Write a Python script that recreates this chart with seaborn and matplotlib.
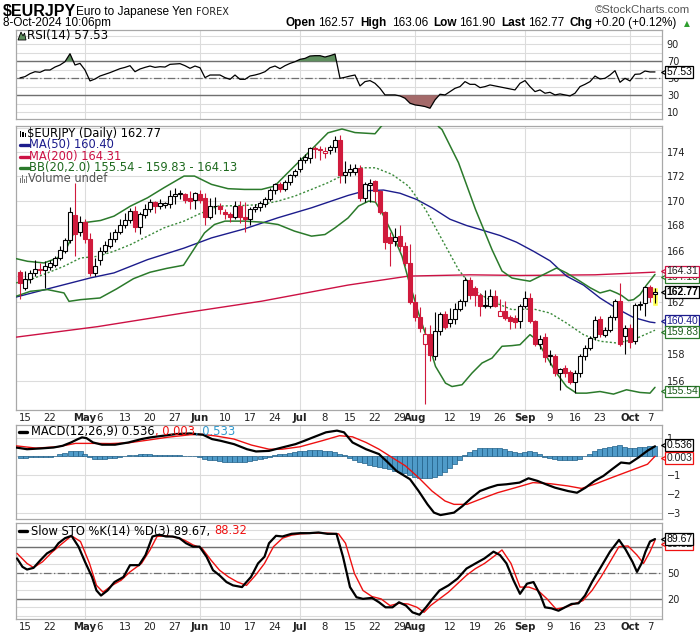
import numpy as np
import pandas as pd
import matplotlib
matplotlib.use("Agg")
import matplotlib.pyplot as plt
import matplotlib.transforms as mtrans
from matplotlib.ticker import NullLocator
from matplotlib.lines import Line2D
from matplotlib.patches import Polygon, Rectangle
import seaborn as sns

# ---------------- data ----------------
opens = [164.30,163.05,163.78,164.25,164.58,164.45,164.70,164.90,165.40,166.00,
         166.85,168.85,167.45,168.25,166.90,164.25,165.25,166.00,166.40,166.95,
         167.50,168.00,168.45,169.20,167.90,168.85,169.35,169.90,169.60,169.65,
         169.75,170.35,170.50,170.55,170.25,170.05,170.50,170.20,168.70,169.55,
         169.60,169.07,168.95,168.70,169.55,168.70,168.55,169.30,169.45,169.70,
         170.15,170.85,171.32,170.97,171.52,172.05,172.55,173.35,173.45,174.30,
         174.20,173.90,174.15,174.40,175.00,172.05,172.30,172.35,172.70,170.25,
         171.30,171.60,170.80,169.05,167.05,166.75,167.20,166.40,165.05,162.00,
         160.85,158.75,159.55,157.90,159.80,161.10,160.35,160.70,161.45,162.10,
         163.68,163.10,162.55,161.65,161.65,162.48,160.95,161.28,160.85,160.75,
         160.50,161.65,162.30,160.50,158.75,159.30,157.90,157.90,156.60,156.95,
         156.70,155.95,156.60,157.85,158.50,159.30,160.65,159.50,159.85,160.85,
         162.05,159.40,160.00,159.00,161.75,161.90,163.15,162.57]
highs = [164.50,164.38,164.50,165.30,165.00,165.15,165.30,165.60,166.40,167.00,
         169.50,171.40,168.80,168.50,167.40,165.40,166.30,166.80,167.50,167.70,
         168.50,169.00,169.40,169.60,169.10,169.70,170.10,170.00,170.10,169.90,
         170.90,171.00,170.90,170.60,170.75,170.70,170.90,170.60,170.20,170.30,
         169.80,169.30,169.10,170.00,170.00,169.90,169.50,169.70,170.00,170.30,
         171.00,171.45,171.50,171.70,172.20,172.60,173.55,173.80,174.40,174.50,
         174.45,174.40,174.60,175.30,175.40,173.20,173.00,173.00,172.90,171.50,
         171.75,171.70,170.90,169.20,167.50,167.80,168.00,166.70,166.50,162.60,
         161.60,160.10,160.20,161.20,161.20,161.30,161.50,161.90,162.20,163.95,
         163.90,163.20,162.70,162.90,163.00,162.90,162.20,162.10,161.00,161.00,
         161.80,162.85,162.70,160.60,159.50,159.60,158.30,158.00,157.00,157.20,
         156.80,156.80,158.00,158.70,159.40,160.90,160.90,160.10,161.00,162.20,
         163.45,160.20,160.30,161.90,162.10,163.20,163.30,163.06]
lows = [162.20,162.95,163.50,164.00,164.20,163.10,164.50,164.70,165.30,165.80,
        166.60,165.60,167.20,166.60,164.00,164.00,164.90,165.80,166.20,166.70,
        167.30,167.80,168.20,167.50,167.30,168.60,169.10,169.00,169.30,169.40,
        169.40,169.70,170.10,169.80,169.30,169.30,169.80,168.00,168.50,168.90,
        168.90,168.50,168.30,168.50,168.20,167.50,168.00,169.10,169.20,169.50,
        170.00,170.50,170.70,170.80,171.30,171.90,172.30,173.10,173.10,173.50,
        173.35,173.50,173.80,174.00,171.40,171.40,172.00,172.10,170.00,169.90,
        169.90,169.90,168.90,166.10,164.80,166.40,166.00,164.80,161.80,160.50,
        159.70,154.30,157.50,157.60,159.50,159.90,160.10,160.30,161.30,161.70,
        162.20,161.65,160.90,161.50,161.50,161.60,160.90,160.60,159.90,160.00,
        160.00,161.50,160.40,158.60,158.40,157.40,157.20,156.40,155.35,156.30,
        155.80,155.10,156.30,157.60,158.30,159.10,159.30,159.30,159.70,160.60,
        158.60,158.00,158.50,158.80,161.40,160.90,162.00,161.90]
closes = [163.47,163.78,164.25,164.56,164.45,164.80,165.00,165.40,166.05,166.85,
          169.10,167.30,168.25,166.90,164.25,164.82,166.00,166.48,166.96,167.50,
          168.05,168.45,169.20,167.90,168.90,169.35,169.90,169.60,169.80,169.80,
          170.35,170.50,170.65,170.05,170.00,170.63,170.05,168.70,169.55,169.60,
          169.35,168.90,168.70,169.55,168.65,168.55,169.30,169.45,169.80,170.15,
          170.85,171.32,170.97,171.52,172.05,172.40,173.35,173.58,174.30,174.20,
          174.15,174.10,174.40,175.00,172.05,172.30,172.60,172.70,170.25,171.35,
          171.45,170.80,169.05,166.70,166.60,167.10,166.40,165.00,162.00,160.85,
          160.00,159.55,157.98,159.80,161.10,160.10,160.68,161.45,162.10,163.68,
          162.55,162.50,161.65,161.78,162.48,161.65,161.28,160.75,160.50,160.45,
          161.65,162.30,160.50,158.75,159.15,157.80,157.95,156.60,156.90,156.60,
          155.95,156.60,157.85,158.50,159.25,160.60,159.55,159.85,160.85,162.05,
          158.75,160.00,158.90,161.75,161.85,163.15,162.40,162.77]

ma50_x = [-0.8,5.5,14.1,18.8,25.5,32.8,38.3,44.9,51.6,58.3,65.6,69,72.7,76,79.3,82.5,86,
          89.3,92.7,96,99.3,102.7,106,109.3,112.7,116,119.3,122.7,126,127]
ma50_y = [162.37,163.0,163.86,164.25,165.29,166.2,167.01,167.73,168.62,169.42,170.42,170.8,
          170.86,170.6,170.1,169.4,168.5,168.0,167.6,167.2,166.67,165.95,165.2,164.0,163.3,
          162.3,161.5,160.8,160.45,160.40]
ma200_x = [-0.8,15.5,32.8,48.3,65.6,77.7,90,100,115,127]
ma200_y = [159.3,160.1,161.15,162.05,163.3,164.0,164.1,164.05,164.1,164.31]
bbu_x = [-0.8,1.5,4.8,7.5,9.5,11.1,12.5,16.1,18.8,22.1,25.5,28.8,32.8,34.9,38.3,41.6,44.9,
         48.3,50.9,52.9,54.9,58.3,61.6,64.4,67,71,72.4,74,78,82,83.7,84.4,87.7,91.1,94.4,
         96.4,98.4,100,102,104.7,107.3,109.3,112,114,116,118,119.3,120.3,121.7,122.7,124,
         125.3,127]
bbu_y = [165.37,165.16,165.03,165.42,166.35,167.68,168.21,168.4,168.75,169.56,170.23,171.05,
         172.0,172.0,171.32,170.97,170.91,170.91,171.18,172.0,172.82,174.19,175.58,175.9,
         175.6,175.5,176.2,177.0,178.5,178.0,176.1,175.85,173.1,169.29,166.08,164.4,163.85,
         163.73,163.6,164.12,164.63,164.25,163.6,163.1,162.69,162.9,162.69,162.5,162.1,
         162.17,162.56,163.3,164.13]
bbm_x = [-0.8,2.1,5.5,8.8,12.1,15.5,18.8,22.1,25.5,28.8,32.8,35.6,39.6,44.9,48.3,51.6,54.9,
         58.3,61.6,65.6,68.4,71.1,74.4,77.7,81.1,84.4,87.7,91.1,94.4,98.4,102.7,106,109.3,
         112.7,116,119.3,122.7,127]
bbm_y = [163.47,163.73,164.25,164.77,165.42,165.55,165.95,166.48,167.15,167.81,168.35,168.88,
         169.56,169.61,169.69,169.96,170.36,170.91,171.46,172.27,172.68,172.68,172.14,171.18,
         169.29,166.88,164.51,162.82,162.04,161.4,161.45,161.14,160.37,159.49,158.99,158.86,
         159.11,159.83]
bbl_x = [-0.8,2.1,5.5,8.8,9.8,12.1,16,19.3,22.7,26,29.3,32.7,34.3,35.6,36.9,38.9,41,44.9,
         48.3,51.6,54.9,58.3,61,63,65.6,67.7,69.7,71.1,72.4,74.4,76.4,77.7,79.7,81.7,83.1,
         85.1,86.4,88.4,90.4,92.4,94.4,96.4,98.4,100,102,103.3,105.3,107.3,109.3,111.3,
         113.3,116,118.7,121.3,124,126,127]
bbl_y = [162.43,162.82,162.95,162.69,162.04,162.17,162.3,163.0,163.8,164.3,164.6,164.85,
         165.82,166.61,167.41,168.08,168.35,168.35,168.27,168.08,167.55,167.15,167.28,167.81,
         168.6,169.56,169.96,169.88,169.02,167.41,165.56,163.73,161.14,158.86,157.1,155.85,
         155.6,155.73,156.6,157.35,157.72,158.61,158.66,158.73,159.49,159.11,157.85,156.6,
         155.6,155.11,155.11,155.23,155.04,155.36,155.16,155.11,155.54]

rsi = [50.5,52.0,55.5,57.8,57.1,59.8,59.8,63.3,65.7,69.6,
       79.0,65.7,67.6,59.8,46.9,49.2,52.7,54.7,56.7,59.0,
       61.4,62.9,64.9,57.8,61.0,62.9,64.5,62.9,63.7,63.3,
       66.5,66.9,67.3,64.9,61.8,64.5,62.5,50.8,53.9,53.9,
       53.9,50.8,48.8,53.9,48.8,48.8,52.7,53.9,55.5,57.8,
       62.5,64.5,61.4,64.9,67.6,69.6,72.4,73.5,76.3,76.7,
       76.7,75.1,76.7,78.6,50.0,51.2,52.7,53.9,41.0,46.1,
       47.3,44.1,38.2,30.4,30.4,30.4,29.2,26.5,20.6,18.6,
       17.8,16.7,14.7,24.5,31.2,30.4,34.3,38.2,40.2,46.1,
       42.9,42.9,39.0,40.2,42.2,41.0,39.8,38.6,37.5,36.3,
       44.1,47.3,40.2,34.3,36.3,32.4,33.5,30.4,31.6,30.4,
       29.2,32.4,40.2,42.9,46.1,52.7,49.2,50.0,53.9,59.0,
       45.3,50.0,46.9,54.7,55.1,58.6,57.5,57.53]

macd_x = [-0.8,1.4,4.1,6.7,8.5,10.2,11.6,12.4,13.3,14.6,16.4,19.0,21.7,24.3,26.1,28.7,31.3,
          34.0,36.6,38.4,40.1,42.8,45.4,47.2,49.8,52.4,55.1,56.9,58.6,61.2,63.4,64.8,66.5,
          69.2,71.8,73.6,75.3,78.0,79.7,81.5,82.8,84.1,86.8,88.5,90.3,92.0,93.8,95.5,97.3,
          99.9,101.7,103.5,105.2,107.0,109.6,111.4,113.1,114.9,116.7,118.4,120.2,121.9,
          123.7,125.5,127.0]
macd_y = [0.47,0.38,0.42,0.47,0.56,0.74,0.92,1.01,0.97,0.74,0.62,0.62,0.74,0.92,1.01,1.10,
          1.19,1.22,1.15,0.92,0.83,0.65,0.38,0.26,0.29,0.47,0.65,0.83,1.01,1.28,1.37,1.28,
          0.74,0.38,0.12,-0.33,-0.78,-1.22,-1.84,-2.56,-3.00,-3.13,-3.00,-2.65,-2.21,-1.85,
          -1.67,-1.53,-1.49,-1.40,-1.17,-1.31,-1.49,-1.67,-1.85,-1.94,-1.67,-1.31,-1.04,
          -0.69,-0.33,-0.38,-0.06,0.30,0.536]
sig_x = [-0.8,3.2,7.6,11.1,14.6,18.1,21.7,25.2,29.6,34.0,36.6,39.3,42.8,46.3,49.8,52.4,56.0,
         60.4,63.9,66.5,69.2,71.8,74.4,77.1,79.7,82.4,85.0,86.8,89.4,92.0,95.5,99.1,102.6,
         106.1,109.6,112.3,114.9,118.4,121.9,125.5,127.0]
sig_y = [0.56,0.44,0.51,0.69,0.69,0.68,0.72,0.85,1.02,1.15,1.17,1.08,0.92,0.60,0.38,0.38,
         0.51,0.83,1.10,1.04,0.74,0.38,-0.06,-0.51,-1.13,-1.85,-2.38,-2.56,-2.56,-2.29,-1.94,
         -1.67,-1.40,-1.46,-1.58,-1.71,-1.49,-1.13,-0.78,-0.42,0.003]
hist = [-0.07,-0.07,-0.06,-0.05,-0.04,-0.03,-0.01,0.03,0.10,0.18,
        0.26,0.30,0.30,0.12,-0.05,-0.15,-0.15,-0.12,-0.10,-0.08,
        -0.03,0.02,0.05,0.08,0.10,0.10,0.10,0.08,0.08,0.08,
        0.07,0.06,0.05,0.04,0.03,0.0,-0.05,-0.12,-0.17,-0.22,
        -0.26,-0.30,-0.30,-0.30,-0.30,-0.28,-0.25,-0.20,-0.15,-0.08,
        -0.02,0.05,0.10,0.13,0.17,0.22,0.26,0.30,0.32,0.32,
        0.32,0.30,0.28,0.25,0.15,0.05,-0.10,-0.20,-0.30,-0.35,
        -0.45,-0.50,-0.55,-0.60,-0.70,-0.80,-0.85,-0.90,-1.00,-1.10,
        -1.15,-1.15,-1.15,-1.10,-1.00,-0.85,-0.60,-0.40,-0.20,0.05,
        0.25,0.35,0.42,0.45,0.45,0.45,0.42,0.38,0.30,0.25,
        0.20,0.25,0.30,0.25,0.10,-0.05,-0.10,-0.15,-0.18,-0.20,
        -0.22,-0.20,-0.12,0.0,0.10,0.30,0.38,0.45,0.50,0.55,
        0.60,0.50,0.45,0.42,0.48,0.50,0.53,0.533]

stok_x = [-0.6,0.5,1.4,2.7,4.1,5.4,6.8,7.7,9.0,10.3,11.7,13.0,14.4,15.3,16.2,17.5,18.9,20.7,
          22.0,23.8,25.1,26.5,27.8,29.2,30.5,31.9,33.2,34.6,35.9,37.3,38.6,39.9,41.3,42.6,
          44.4,46.2,47.6,48.9,49.8,51.2,52.5,54.3,56.1,57.9,59.7,61.5,63.3,64.6,66.0,67.3,
          68.6,70.4,71.8,73.1,74.5,75.8,77.2,78.5,79.9,81.2,82.5,83.9,85.7,87.5,89.3,91.1,
          92.9,94.7,96.0,97.3,98.7,100.0,101.4,102.7,104.1,105.0,106.3,107.7,109.0,110.3,
          111.7,113.0,114.4,116.2,118.0,119.8,121.1,122.5,123.4,124.3,125.1,126.0,127.0]
stok_y = [67,57.1,54,55.9,65,72.9,77.7,84.8,90.7,93.5,80.8,63,45.3,29.4,23.5,29.4,39.3,45.3,
          59.1,59.1,70.9,92.7,94.7,92.7,92.7,90.7,84.8,80.8,80.8,69,53.2,47.2,39.3,35.4,33.4,
          45.3,61.1,69,84.8,93.5,92.7,95.8,96.6,96.6,97.4,95.8,95.8,69,33.4,21.5,19.6,20.8,
          15.6,9.7,9.7,15.6,11.7,3.8,1,9.7,19.6,29.4,35.4,43.3,55.1,61.1,67,74.9,70.9,61.1,
          41.3,25.5,37.4,39.3,23.5,9.7,8.5,5.7,9.7,13.6,14.4,23.5,39.3,57.1,74.9,88.7,77.7,
          63,51.2,61.1,74.9,86.8,89.67]
stod_x = [-0.6,1.4,2.7,4.5,6.3,8.1,10.3,12.1,13.9,15.3,16.6,18.4,20.2,22.0,24.3,26.0,27.4,
          29.2,31.0,32.8,34.6,36.4,38.2,39.9,41.7,43.5,45.3,47.1,48.9,50.7,52.5,54.3,56.1,
          58.8,61.5,63.7,65.1,66.9,68.6,70.4,72.2,74.0,75.8,77.6,79.4,80.8,82.1,83.9,85.7,
          87.5,89.3,91.1,92.9,94.7,96.4,98.2,100.0,101.8,103.6,105.4,107.2,109.0,110.8,
          112.6,114.4,116.2,118.0,119.8,121.6,123.4,124.7,126.0,127.0]
stod_y = [72.9,61.1,56.3,63,73.7,82.8,93.5,86.8,61.1,35.4,27.5,35.4,41.3,51.2,61.1,76.9,92.7,
          93.5,91.9,88.7,82.8,78.9,65,53.2,45.3,39.3,35.4,47.2,61.1,80.8,90.7,94.3,95.8,96.6,
          96.6,95.8,84.8,49.2,29.4,22.3,19.6,11.7,14.4,13.6,9.7,3.8,11.7,19.6,27.5,37.4,47.2,
          55.1,61.1,69,76.9,61.1,33.4,33.4,29.4,19.6,7.7,9.7,13.6,17.6,29.4,45.3,63,80.8,
          81.6,70.9,61.1,74.9,88.32]

date_tick_idx = [1,6,13,16,21,26,31,36,41,46,51,56,61,66,71,76,79,86,91,96,101,106,111,116,122,126]
date_tick_lab = ["15","22","May","6","13","20","27","Jun","10","17","24","Jul","8","15","22","29",
                 "Aug","12","19","26","Sep","9","16","23","Oct","7"]
month_idx = [13,36,56,79,101,122]
price_ticks = [156,158,160,162,164,166,168,170,172,174]

# ---------------- figure ----------------
sns.set_style("white")
plt.rcParams['font.family'] = ['DejaVu Sans']
ARIAL = ['Liberation Sans', 'DejaVu Sans']

W, H = 700, 639
fig = plt.figure(figsize=(W / 100, H / 100), dpi=100)
fig.patch.set_facecolor('white')
XL, XR = 16, 662


def mkax(top, bot):
    return fig.add_axes([XL / W, 1 - bot / H, (XR - XL) / W, (bot - top) / H])


ax_r = mkax(30, 119)
ax_p = mkax(126, 410)
ax_m = mkax(425, 519)
ax_s = mkax(523, 619)
n = len(closes)
idx = np.arange(n)
GRID = '#dcdcdc'


def style(ax, hlines):
    ax.set_xlim(-0.8, 128.4)
    ax.set_facecolor('white')
    for s in ax.spines.values():
        s.set_color('#a8a8a8')
        s.set_linewidth(0.9)
    ax.yaxis.tick_right()
    ax.tick_params(axis='y', length=0, pad=3.5, labelsize=7, labelcolor='#222222')
    ax.tick_params(axis='x', length=0, labelsize=7.3, pad=2.5, labelcolor='#222222')
    for m in month_idx:
        ax.axvline(m, color=GRID, lw=0.8, zorder=0)
    for hh in hlines:
        ax.axhline(hh, color=GRID, lw=0.8, zorder=0)
    ax.set_xlabel('')
    ax.set_ylabel('')


def date_axis(ax):
    ax.set_xticks(date_tick_idx)
    ax.set_xticklabels(date_tick_lab)
    for lbl in ax.get_xticklabels():
        if lbl.get_text() in ("May", "Jun", "Jul", "Aug", "Sep", "Oct"):
            lbl.set_fontweight('bold')


# ---- RSI ----
rsi_a = np.array(rsi)
style(ax_r, range(10, 101, 10))
ax_r.set_ylim(2, 107)
ax_r.set_yticks([10, 30, 50, 70, 90])
ax_r.set_xticks([])
ax_r.fill_between(idx, rsi_a, 70, where=rsi_a >= 70, interpolate=True, color='#5f8f5f', lw=0, zorder=2)
ax_r.fill_between(idx, rsi_a, 30, where=rsi_a <= 30, interpolate=True, color='#a46a6a', lw=0, zorder=2)
ax_r.axhline(70, color='#707070', lw=1.0, zorder=1)
ax_r.axhline(30, color='#707070', lw=1.0, zorder=1)
ax_r.axhline(50, color='#707070', lw=0.9, ls=(0, (6, 2, 1, 2)), zorder=1)
sns.lineplot(x=idx, y=rsi_a, ax=ax_r, color='black', lw=0.9, estimator=None, sort=False, zorder=3)
ax_r.set_xlabel(''); ax_r.set_ylabel('')

# ---- price ----
ax_p.set_yscale('log')
style(ax_p, [156, 158, 160, 162, 164, 166, 168, 170, 172, 174, 176])
ax_p.set_ylim(153.87, 176.15)
ax_p.set_yticks(price_ticks)
ax_p.set_yticklabels([str(v) for v in price_ticks])
ax_p.yaxis.set_minor_locator(NullLocator())
date_axis(ax_p)

o = np.array(opens); h = np.array(highs); l = np.array(lows); c = np.array(closes)
prev = np.concatenate([[o[0]], c[:-1]])
RED = '#d01a3c'
edge = np.where(c >= prev, 'black', RED)
fill = np.where(c >= o, 'white', edge)
# highlight behind the last candle
ax_p.bar(idx[-1:], (h[-1:] - l[-1:]) * 1.25, bottom=l[-1:] - (h[-1:] - l[-1:]) * 0.2, width=1.3,
         color='#ffff55', zorder=1.5)
ax_p.vlines(idx, l, h, colors=edge, lw=0.8, zorder=4)
ax_p.bar(idx, np.maximum(np.abs(c - o), 0.02), bottom=np.minimum(o, c), width=0.72, color=fill,
         edgecolor=edge, lw=0.8, zorder=5)

sns.lineplot(x=ma200_x, y=ma200_y, ax=ax_p, color='#cc1144', lw=1.0, estimator=None, sort=False, zorder=3)
sns.lineplot(x=ma50_x, y=ma50_y, ax=ax_p, color='#1c1c8c', lw=1.0, estimator=None, sort=False, zorder=3)
sns.lineplot(x=bbu_x, y=bbu_y, ax=ax_p, color='#2b7a2b', lw=1.1, estimator=None, sort=False, zorder=3)
sns.lineplot(x=bbl_x, y=bbl_y, ax=ax_p, color='#2b7a2b', lw=1.1, estimator=None, sort=False, zorder=3)
sns.lineplot(x=bbm_x, y=bbm_y, ax=ax_p, color='#3a8a3a', lw=1.0, ls=(0, (1.5, 1.5)), estimator=None,
             sort=False, zorder=3)
ax_p.set_xlim(-0.8, 128.4)
ax_p.set_ylim(153.87, 176.15)
ax_p.set_xlabel(''); ax_p.set_ylabel('')

# ---- MACD ----
style(ax_m, [1, 0, -1, -2, -3])
ax_m.set_ylim(-3.34, 1.67)
ax_m.set_yticks([1, -1, -2, -3])
ax_m.set_xticks([])
ax_m.bar(idx, hist, width=1.0, color='#4f9bc9', edgecolor='#1f5f88', lw=0.5, zorder=2)
sns.lineplot(x=sig_x, y=sig_y, ax=ax_m, color='#ee1111', lw=1.0, estimator=None, sort=False, zorder=3)
sns.lineplot(x=macd_x, y=macd_y, ax=ax_m, color='black', lw=1.6, estimator=None, sort=False, zorder=4)
ax_m.set_xlim(-0.8, 128.4)
ax_m.set_xlabel(''); ax_m.set_ylabel('')

# ---- STO ----
style(ax_s, range(0, 101, 10))
ax_s.set_ylim(-4, 108.5)
ax_s.set_yticks([20, 50, 80])
date_axis(ax_s)
ax_s.axhline(80, color='#707070', lw=1.0, zorder=1)
ax_s.axhline(20, color='#707070', lw=1.0, zorder=1)
ax_s.axhline(50, color='#707070', lw=0.9, ls=(0, (6, 2, 1, 2)), zorder=1)
sns.lineplot(x=stod_x, y=stod_y, ax=ax_s, color='#ee1111', lw=1.0, estimator=None, sort=False, zorder=3)
sns.lineplot(x=stok_x, y=stok_y, ax=ax_s, color='black', lw=1.6, estimator=None, sort=False, zorder=4)
ax_s.set_xlim(-0.8, 128.4)
ax_s.set_xlabel(''); ax_s.set_ylabel('')


# ---------------- value tags on the right ----------------
def tag(ax, y, txt, ec, tc='black', bold=False, dy=0.0, z=6):
    tr = mtrans.blended_transform_factory(ax.transAxes, ax.transData)
    ax.plot([1.0], [y], transform=tr + mtrans.ScaledTranslation(1.6 / 72, dy / 72, fig.dpi_scale_trans),
            marker='<', ms=4.2, mfc='white', mec=ec, mew=0.9, clip_on=False, zorder=z)
    ax.annotate(txt, xy=(1.0, y), xycoords=tr, xytext=(3.0, dy), textcoords='offset points',
                ha='left', va='center', fontsize=7.5, color=tc, family=ARIAL,
                fontweight='bold' if bold else 'normal',
                bbox=dict(boxstyle='square,pad=0.08', fc='white', ec=ec, lw=0.9),
                annotation_clip=False, zorder=z + 1)


tag(ax_r, rsi[-1], f"{rsi[-1]:.2f}", 'black')
tag(ax_p, bbu_y[-1], f"{bbu_y[-1]:.2f}", '#2b7a2b', '#1a5a1a', dy=-2.0)
tag(ax_p, ma200_y[-1], f"{ma200_y[-1]:.2f}", '#cc1144', '#222222', dy=0.5)
tag(ax_p, closes[-1], f"{closes[-1]:.2f}", 'black', bold=True, z=8)
tag(ax_p, ma50_y[-1], f"{ma50_y[-1]:.2f}", '#1c1c8c', '#1c1c8c', dy=1.0)
tag(ax_p, bbm_y[-1], f"{bbm_y[-1]:.2f}", '#2b7a2b', '#1a5a1a', dy=-1.5)
tag(ax_p, bbl_y[-1], f"{bbl_y[-1]:.2f}", '#2b7a2b', '#1a5a1a', dy=-3.0)
tag(ax_m, macd_y[-1], f"{macd_y[-1]:.3f}", 'black', dy=0.8)
tag(ax_m, sig_y[-1], f"{sig_y[-1]:.3f}", '#ee1111', '#222222', dy=-1.2)
tag(ax_s, stod_y[-1], f"{stod_y[-1]:.2f}", '#ee1111', '#222222', dy=-2.5)
tag(ax_s, stok_y[-1], f"{stok_y[-1]:.2f}", 'black', z=9)

# ---------------- texts ----------------
renderer = fig.canvas.get_renderer()


def seg(x_px, y_px, parts, size=8.3, family=None):
    x = x_px
    for s, col, wt in parts:
        kw = dict(fontsize=size, color=col, fontweight=wt, va='center', ha='left')
        if family is not None:
            kw['family'] = family
        t = fig.text(x / W, 1 - y_px / H, s, **kw)
        x += t.get_window_extent(renderer).width
    return x


def put(x_px, y_px, s, size, weight='normal', color='black', family=None, ha='left'):
    kw = dict(fontsize=size, color=color, fontweight=weight, va='center', ha=ha)
    if family is not None:
        kw['family'] = family
    fig.text(x_px / W, 1 - y_px / H, s, **kw)


def dash(x0, x1, y, col):
    fig.add_artist(Line2D([x0 / W, x1 / W], [1 - y / H, 1 - y / H], color=col, lw=2.4,
                          transform=fig.transFigure))


# header
put(3, 11, "$EURJPY", 11.5, 'bold', family=ARIAL)
put(76, 12, "Euro to Japanese Yen", 8.6, family=ARIAL)
put(196, 12, "FOREX", 7, color='#222222')
put(690, 10, "\u00a9StockCharts.com", 8.2, color='#555555', family=ARIAL, ha='right')
put(3, 23, "8-Oct-2024 10:06pm", 8.5, family=ARIAL)
for xx, s, wt in [(286, "Open", 'bold'), (318, "162.57", 'normal'), (360, "High", 'bold'),
                  (392, "163.06", 'normal'), (433, "Low", 'bold'), (459, "161.90", 'normal'),
                  (501, "Last", 'bold'), (528, "162.77", 'normal'), (569, "Chg", 'bold'),
                  (595, "+0.20 (+0.12%)", 'normal')]:
    put(xx, 23, s, 8.5, wt, family=ARIAL)
put(684, 23.5, "\u25b2", 5.5, color='#2e9e2e')

# RSI label
fig.add_artist(Polygon([[18 / W, 1 - 40 / H], [21 / W, 1 - 32 / H], [23 / W, 1 - 36 / H],
                        [24.5 / W, 1 - 33 / H], [26 / W, 1 - 40 / H]], closed=True,
                       fc='#5f8f5f', ec='black', lw=0.6, transform=fig.transFigure))
seg(27, 36, [("RSI(14) 57.53", 'black', 'normal')], size=8.6)

# price legend
for k, xx in enumerate([19.5, 22, 24.5]):
    fig.add_artist(Rectangle((xx / W, 1 - 137 / H), 1.6 / W, (6 - k) / H, fc='black', ec='none',
                             transform=fig.transFigure))
seg(27, 133, [("$EURJPY (Daily) 162.77", 'black', 'normal')])
dash(20, 28.5, 145, '#1c1c8c')
seg(29, 145, [("MA(50) 160.40", '#1c1c8c', 'normal')])
dash(20, 28.5, 156.5, '#cc1144')
seg(29, 156.5, [("MA(200) 164.31", '#cc1144', 'normal')])
dash(20, 28.5, 168, '#2b7a2b')
seg(29, 168, [("BB(20,2.0) 155.54 - 159.83 - 164.13", '#1e6a1e', 'normal')])
for k, hh in enumerate([5, 7, 4, 6]):
    fig.add_artist(Rectangle(((19.5 + k * 2) / W, 1 - 182.5 / H), 1.4 / W, hh / H, fc='#777777',
                             ec='none', transform=fig.transFigure))
seg(28.5, 178, [("Volume undef", '#555555', 'normal')])

# MACD label
dash(19, 27, 432, 'black')
seg(31, 432, [("MACD(12,26,9) 0.536", 'black', 'normal'), (", 0.003", '#ee1111', 'normal'),
              (", 0.533", '#3399cc', 'normal')])
# STO label
dash(19, 27, 531, 'black')
seg(31, 531, [("Slow STO %K(14) %D(3) 89.67, ", 'black', 'normal'), ("88.32", '#ee1111', 'normal')])

fig.savefig("out.png", dpi=100, facecolor='white')
